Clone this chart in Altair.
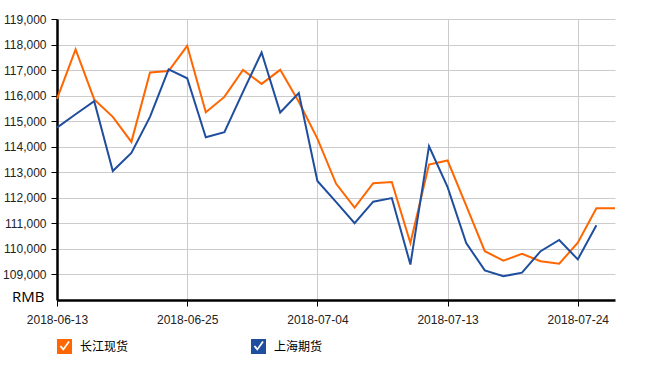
import altair as alt
import pandas as pd

dates = ["2018-06-13", "2018-06-14", "2018-06-15", "2018-06-19", "2018-06-20", "2018-06-21",
         "2018-06-22", "2018-06-25", "2018-06-26", "2018-06-27", "2018-06-28", "2018-06-29",
         "2018-07-02", "2018-07-03", "2018-07-04", "2018-07-05", "2018-07-06", "2018-07-09",
         "2018-07-10", "2018-07-11", "2018-07-12", "2018-07-13", "2018-07-16", "2018-07-17",
         "2018-07-18", "2018-07-19", "2018-07-20", "2018-07-23", "2018-07-24", "2018-07-25",
         "2018-07-26"]
changjiang = [115870, 117810, 115850, 115170, 114190, 116910, 116960, 117950, 115350, 115950,
              117010, 116460, 117010, 115760, 114320, 112560, 111620, 112570, 112620, 110230,
              113300, 113460, 111690, 109910, 109540, 109810, 109520, 109420, 110240, 111590,
              111590]
shanghai = [114750, 115270, 115780, 113050, 113760, 115170, 117030, 116680, 114370, 114570,
            116150, 117690, 115340, 116100, 112660, 111840, 111010, 111850, 111990, 109390,
            114020, 112420, 110230, 109160, 108930, 109070, 109910, 110350, 109590, 110930]
series_names = ["长江现货", "上海期货"]
series_colors = ["#FF6600", "#1F4E9E"]
x_ticks = ["2018-06-13", "2018-06-25", "2018-07-04", "2018-07-13", "2018-07-24"]
y_ticks = [109000, 110000, 111000, 112000, 113000, 114000, 115000, 116000, 117000, 118000, 119000]

rows = []
for d, v in zip(dates, changjiang):
    rows.append({"date": d, "series": series_names[0], "value": v})
for d, v in zip(dates, shanghai):
    rows.append({"date": d, "series": series_names[1], "value": v})
df = pd.DataFrame(rows)

check_path = ("M-1,-1L1,-1L1,1L-1,1Z"
              "M-0.65,0L-0.15,0.55L0.7,-0.6L0.5,-0.75L-0.15,0.2L-0.45,-0.15Z")

legend_opts = dict(title=None, orient="none", legendX=0, legendY=320,
                   direction="horizontal", columnPadding=122,
                   symbolType=check_path, symbolSize=225, symbolStrokeWidth=0,
                   symbolOpacity=1, labelFont="Noto Sans CJK SC", labelFontSize=12,
                   labelColor="#000000", labelOffset=8, padding=0)

x_enc = alt.X("date:O", sort=dates, title=None,
              scale=alt.Scale(type="point", padding=0),
              axis=alt.Axis(values=x_ticks, labelAngle=0, grid=True, gridColor="#cccccc",
                            domainColor="#000000", domainWidth=2.5, tickColor="#000000",
                            tickSize=6, labelFont="Liberation Sans", labelFontSize=12,
                            labelColor="#222222", labelPadding=8))
y_enc = alt.Y("value:Q", scale=alt.Scale(domain=[108000, 119000], nice=False, zero=False),
              axis=alt.Axis(values=y_ticks, format=",d", grid=True, gridColor="#cccccc",
                            domainColor="#000000", domainWidth=2.5, tickColor="#000000",
                            tickSize=6, labelFont="Liberation Sans", labelFontSize=12,
                            labelColor="#222222", labelPadding=5,
                            title="RMB", titleAngle=0, titleX=-13, titleY=282,
                            titleAlign="right", titleBaseline="alphabetic",
                            titleFont="Open Sans", titleFontSize=15, titleFontWeight="normal",
                            titleColor="#000000"))

base = alt.Chart(df)
lines = base.mark_line(strokeWidth=2).encode(
    x=x_enc, y=y_enc,
    color=alt.Color("series:N", scale=alt.Scale(domain=series_names, range=series_colors),
                    legend=alt.Legend(symbolFillColor="#FF6600", **legend_opts)),
)
pts = base.mark_point(filled=True, size=0).encode(
    x=x_enc, y=y_enc,
    fill=alt.Fill("series:N", scale=alt.Scale(domain=series_names, range=series_colors),
                  legend=alt.Legend(**legend_opts)),
)

chart = alt.layer(lines, pts).properties(
    width=558, height=281,
    autosize=alt.AutoSizeParams(type="none"),
    padding={"left": 57, "top": 19, "right": 41, "bottom": 78},
).configure_view(stroke=None)

chart.save("out.html", embed_options={"renderer": "svg", "actions": False})
